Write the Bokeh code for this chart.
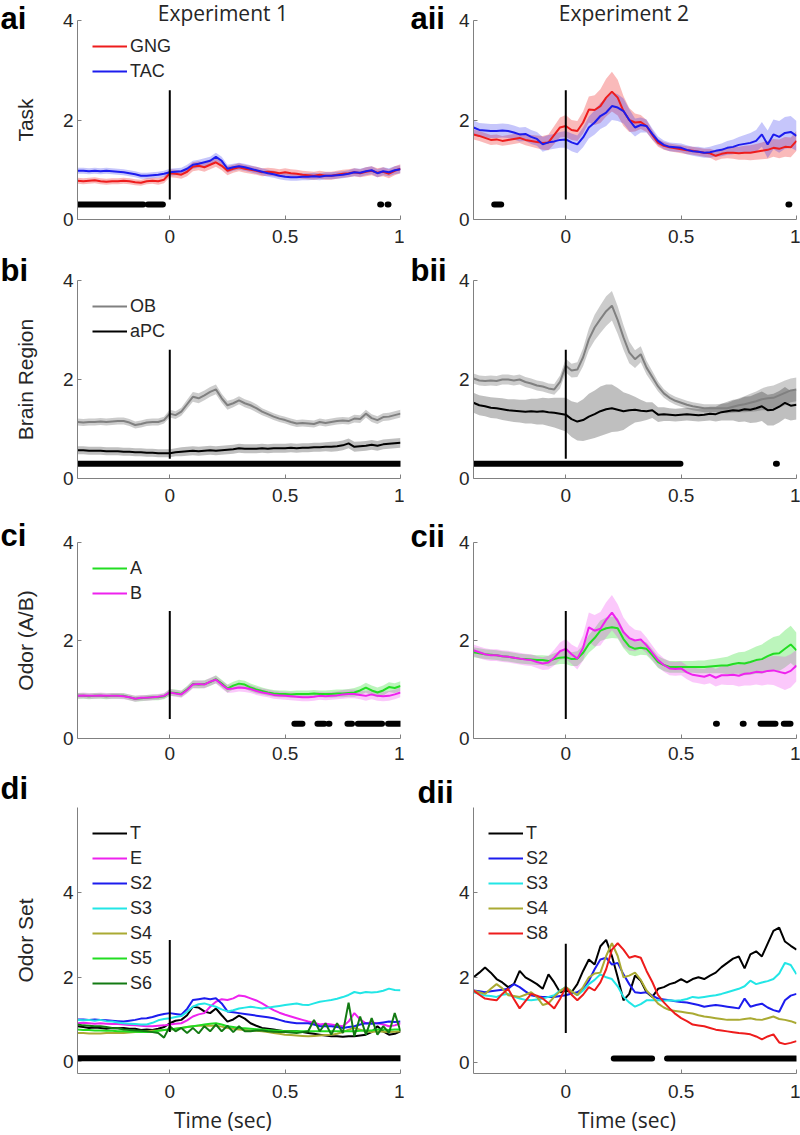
import numpy as np
from bokeh.plotting import figure
from bokeh.layouts import column, row
from bokeh.models import Range1d, FixedTicker, NumeralTickFormatter, Legend, LegendItem
from bokeh.core.properties import value
from bokeh.embed import file_html
from bokeh.resources import INLINE

# ---------------- data ----------------
TIME = np.round(np.linspace(-0.4, 1.0, 57), 3)   # time bins (sec)
X_TICKS = [0, 0.5, 1]
Y_TICKS = [0, 2, 4]
STIM_X = [0.0]

# Experiment 1 - Task
ai_gng = [0.78, 0.77, 0.78, 0.79, 0.77, 0.76, 0.77, 0.77,
          0.78, 0.77, 0.75, 0.74, 0.77, 0.78, 0.77, 0.80,
          0.93, 0.92, 0.90, 0.96, 1.06, 1.08, 1.05, 1.10,
          1.15, 1.08, 0.98, 1.02, 1.05, 1.02, 1.00, 0.98,
          0.95, 0.96, 0.95, 0.93, 0.95, 0.93, 0.92, 0.90,
          0.89, 0.88, 0.90, 0.88, 0.88, 0.90, 0.92, 0.93,
          0.95, 0.93, 0.96, 0.98, 0.94, 0.96, 0.92, 0.98,
          1.02]
ai_gng_sem = [0.06, 0.06, 0.06, 0.06, 0.06, 0.06, 0.06, 0.06,
              0.06, 0.06, 0.06, 0.06, 0.06, 0.06, 0.07, 0.07,
              0.08, 0.08, 0.08, 0.09, 0.09, 0.09, 0.09, 0.09,
              0.09, 0.09, 0.09, 0.08, 0.08, 0.08, 0.08, 0.08,
              0.08, 0.08, 0.08, 0.08, 0.08, 0.08, 0.08, 0.08,
              0.08, 0.08, 0.08, 0.08, 0.08, 0.08, 0.08, 0.08,
              0.08, 0.08, 0.09, 0.09, 0.09, 0.09, 0.09, 0.09,
              0.09]
ai_tac = [0.98, 0.98, 0.97, 0.98, 0.97, 0.98, 0.97, 0.96,
          0.95, 0.93, 0.91, 0.88, 0.88, 0.89, 0.90, 0.92,
          0.95, 0.96, 0.97, 1.02, 1.10, 1.12, 1.15, 1.18,
          1.26, 1.18, 1.02, 1.05, 1.07, 1.05, 1.02, 0.99,
          0.96, 0.93, 0.91, 0.88, 0.86, 0.85, 0.85, 0.86,
          0.86, 0.87, 0.86, 0.88, 0.88, 0.89, 0.90, 0.92,
          0.95, 0.94, 0.97, 0.99, 0.93, 0.97, 0.95, 0.99,
          1.01]
ai_tac_sem = [0.06, 0.06, 0.06, 0.06, 0.06, 0.06, 0.06, 0.06,
              0.06, 0.06, 0.06, 0.06, 0.06, 0.06, 0.06, 0.06,
              0.07, 0.07, 0.07, 0.08, 0.08, 0.08, 0.08, 0.08,
              0.08, 0.08, 0.08, 0.07, 0.07, 0.07, 0.07, 0.07,
              0.07, 0.07, 0.07, 0.07, 0.07, 0.07, 0.07, 0.07,
              0.07, 0.07, 0.07, 0.07, 0.07, 0.07, 0.07, 0.07,
              0.08, 0.08, 0.08, 0.08, 0.08, 0.08, 0.08, 0.08,
              0.08]
ai_sig = [(-0.4, -0.115), (-0.095, -0.03), (0.912, 0.916), (0.944, 0.948)]

# Experiment 2 - Task
aii_gng = [1.71, 1.68, 1.64, 1.60, 1.61, 1.58, 1.60, 1.62,
           1.64, 1.60, 1.58, 1.56, 1.54, 1.55, 1.70, 1.85,
           1.88, 1.80, 1.78, 1.95, 2.21, 2.20, 2.28, 2.45,
           2.57, 2.45, 2.18, 2.00, 1.95, 1.96, 1.88, 1.70,
           1.54, 1.48, 1.45, 1.43, 1.41, 1.39, 1.38, 1.36,
           1.34, 1.33, 1.28, 1.32, 1.34, 1.34, 1.33, 1.34,
           1.34, 1.36, 1.38, 1.40, 1.44, 1.42, 1.46, 1.45,
           1.58]
aii_gng_sem = [0.10, 0.10, 0.10, 0.10, 0.10, 0.10, 0.10, 0.10,
               0.10, 0.11, 0.12, 0.13, 0.14, 0.16, 0.18, 0.20,
               0.22, 0.20, 0.20, 0.22, 0.26, 0.30, 0.34, 0.38,
               0.40, 0.36, 0.30, 0.24, 0.18, 0.14, 0.12, 0.10,
               0.08, 0.08, 0.08, 0.08, 0.08, 0.08, 0.08, 0.08,
               0.08, 0.09, 0.10, 0.10, 0.11, 0.12, 0.13, 0.14,
               0.15, 0.16, 0.17, 0.18, 0.18, 0.19, 0.20, 0.20,
               0.20]
aii_tac = [1.85, 1.80, 1.79, 1.78, 1.78, 1.79, 1.78, 1.75,
           1.71, 1.72, 1.66, 1.62, 1.51, 1.55, 1.57, 1.60,
           1.61, 1.55, 1.51, 1.65, 1.85, 1.95, 2.08, 2.15,
           2.28, 2.25, 2.18, 2.00, 1.85, 1.90, 1.88, 1.72,
           1.58, 1.50, 1.46, 1.45, 1.44, 1.40, 1.37, 1.36,
           1.34, 1.35, 1.38, 1.40, 1.44, 1.46, 1.50, 1.52,
           1.54, 1.58, 1.71, 1.51, 1.71, 1.66, 1.74, 1.76,
           1.68]
aii_tac_sem = [0.14, 0.14, 0.14, 0.14, 0.14, 0.14, 0.14, 0.14,
               0.14, 0.14, 0.14, 0.14, 0.15, 0.15, 0.15, 0.16,
               0.17, 0.18, 0.18, 0.20, 0.22, 0.24, 0.26, 0.27,
               0.28, 0.27, 0.25, 0.22, 0.18, 0.15, 0.13, 0.11,
               0.09, 0.09, 0.09, 0.09, 0.09, 0.09, 0.09, 0.10,
               0.10, 0.11, 0.12, 0.13, 0.14, 0.15, 0.16, 0.18,
               0.20, 0.22, 0.25, 0.28, 0.30, 0.32, 0.32, 0.32,
               0.30]
aii_sig = [(-0.31, -0.28), (0.965, 0.969)]

# Experiment 1 - Brain region
bi_ob = [1.14, 1.13, 1.14, 1.14, 1.15, 1.14, 1.15, 1.16,
         1.16, 1.13, 1.08, 1.10, 1.13, 1.14, 1.14, 1.18,
         1.31, 1.28, 1.35, 1.50, 1.65, 1.62, 1.68, 1.75,
         1.80, 1.62, 1.48, 1.52, 1.58, 1.52, 1.48, 1.42,
         1.35, 1.30, 1.25, 1.21, 1.18, 1.14, 1.11, 1.12,
         1.11, 1.10, 1.14, 1.12, 1.14, 1.16, 1.17, 1.16,
         1.21, 1.20, 1.31, 1.22, 1.18, 1.24, 1.25, 1.28,
         1.31]
bi_ob_sem = [0.07, 0.07, 0.07, 0.07, 0.07, 0.07, 0.07, 0.07,
             0.07, 0.07, 0.07, 0.07, 0.07, 0.07, 0.07, 0.07,
             0.08, 0.08, 0.08, 0.09, 0.10, 0.10, 0.10, 0.10,
             0.10, 0.09, 0.09, 0.08, 0.08, 0.08, 0.08, 0.08,
             0.07, 0.07, 0.07, 0.07, 0.07, 0.07, 0.07, 0.07,
             0.07, 0.07, 0.07, 0.07, 0.07, 0.07, 0.07, 0.07,
             0.08, 0.08, 0.08, 0.08, 0.08, 0.08, 0.08, 0.08,
             0.08]
bi_apc = [0.57, 0.57, 0.56, 0.56, 0.56, 0.55, 0.55, 0.55,
          0.54, 0.54, 0.53, 0.53, 0.52, 0.52, 0.51, 0.51,
          0.51, 0.53, 0.54, 0.55, 0.56, 0.55, 0.56, 0.57,
          0.56, 0.57, 0.58, 0.59, 0.61, 0.60, 0.60, 0.60,
          0.61, 0.60, 0.61, 0.61, 0.61, 0.62, 0.61, 0.62,
          0.62, 0.63, 0.63, 0.64, 0.64, 0.65, 0.67, 0.71,
          0.64, 0.65, 0.66, 0.68, 0.66, 0.69, 0.70, 0.71,
          0.72]
bi_apc_sem = [0.08, 0.08, 0.08, 0.08, 0.08, 0.08, 0.08, 0.08,
              0.08, 0.08, 0.08, 0.08, 0.08, 0.08, 0.08, 0.08,
              0.08, 0.08, 0.09, 0.09, 0.09, 0.09, 0.09, 0.09,
              0.09, 0.09, 0.09, 0.09, 0.09, 0.09, 0.09, 0.09,
              0.09, 0.09, 0.09, 0.09, 0.09, 0.09, 0.09, 0.09,
              0.09, 0.09, 0.09, 0.09, 0.10, 0.10, 0.10, 0.10,
              0.10, 0.10, 0.10, 0.10, 0.10, 0.10, 0.10, 0.10,
              0.10]
bi_sig = [(-0.4, 1.0)]

# Experiment 2 - Brain region
bii_ob = [2.02, 1.98, 1.97, 1.98, 1.97, 2.00, 2.00, 1.98,
          2.00, 1.95, 1.92, 1.88, 1.86, 1.82, 1.80, 1.95,
          2.28, 2.18, 2.20, 2.45, 2.81, 3.05, 3.22, 3.38,
          3.49, 3.20, 2.85, 2.55, 2.41, 2.51, 2.24, 2.05,
          1.86, 1.72, 1.63, 1.57, 1.53, 1.49, 1.46, 1.44,
          1.42, 1.42, 1.42, 1.42, 1.42, 1.45, 1.48, 1.50,
          1.53, 1.56, 1.60, 1.62, 1.63, 1.68, 1.73, 1.78,
          1.80]
bii_ob_sem = [0.10, 0.10, 0.10, 0.10, 0.10, 0.10, 0.10, 0.10,
              0.10, 0.10, 0.10, 0.10, 0.10, 0.10, 0.11, 0.13,
              0.14, 0.14, 0.15, 0.18, 0.22, 0.26, 0.28, 0.30,
              0.30, 0.28, 0.25, 0.22, 0.18, 0.16, 0.14, 0.12,
              0.10, 0.09, 0.08, 0.08, 0.08, 0.08, 0.08, 0.08,
              0.08, 0.08, 0.08, 0.09, 0.10, 0.12, 0.14, 0.16,
              0.18, 0.20, 0.22, 0.24, 0.25, 0.25, 0.25, 0.24,
              0.24]
bii_apc = [1.53, 1.48, 1.46, 1.43, 1.42, 1.40, 1.38, 1.37,
           1.36, 1.35, 1.36, 1.35, 1.36, 1.34, 1.33, 1.31,
           1.29, 1.20, 1.15, 1.18, 1.25, 1.30, 1.36, 1.40,
           1.42, 1.39, 1.36, 1.38, 1.39, 1.37, 1.36, 1.38,
           1.29, 1.30, 1.29, 1.28, 1.29, 1.30, 1.29, 1.28,
           1.29, 1.31, 1.30, 1.34, 1.36, 1.38, 1.37, 1.40,
           1.39, 1.42, 1.46, 1.38, 1.39, 1.45, 1.53, 1.47,
           1.49]
bii_apc_sem = [0.20, 0.20, 0.20, 0.21, 0.21, 0.22, 0.22, 0.23,
               0.23, 0.24, 0.25, 0.26, 0.27, 0.28, 0.30, 0.32,
               0.34, 0.36, 0.38, 0.42, 0.46, 0.48, 0.50, 0.50,
               0.48, 0.44, 0.38, 0.32, 0.26, 0.22, 0.18, 0.16,
               0.15, 0.14, 0.13, 0.13, 0.13, 0.13, 0.13, 0.13,
               0.13, 0.14, 0.15, 0.17, 0.19, 0.21, 0.23, 0.25,
               0.27, 0.29, 0.30, 0.31, 0.32, 0.32, 0.32, 0.30,
               0.30]
bii_sig = [(-0.4, 0.497), (0.911, 0.915)]

# Experiment 1 - Odor A/B
ci_a = [0.87, 0.87, 0.86, 0.87, 0.87, 0.86, 0.87, 0.87,
        0.87, 0.84, 0.81, 0.82, 0.83, 0.84, 0.84, 0.86,
        0.94, 0.93, 0.91, 1.00, 1.11, 1.10, 1.11, 1.15,
        1.21, 1.12, 1.02, 1.08, 1.12, 1.10, 1.04, 1.00,
        0.97, 0.94, 0.92, 0.91, 0.91, 0.90, 0.91, 0.91,
        0.91, 0.92, 0.91, 0.91, 0.91, 0.92, 0.92, 0.93,
        0.94, 0.98, 1.04, 0.98, 0.94, 0.98, 1.05, 1.03,
        1.07]
ci_a_sem = [0.06, 0.06, 0.06, 0.06, 0.06, 0.06, 0.06, 0.06,
            0.06, 0.06, 0.06, 0.06, 0.06, 0.06, 0.06, 0.06,
            0.07, 0.07, 0.07, 0.07, 0.08, 0.08, 0.08, 0.08,
            0.08, 0.08, 0.08, 0.08, 0.08, 0.08, 0.08, 0.08,
            0.07, 0.07, 0.07, 0.07, 0.07, 0.07, 0.07, 0.07,
            0.07, 0.07, 0.07, 0.07, 0.08, 0.08, 0.08, 0.08,
            0.09, 0.09, 0.10, 0.10, 0.10, 0.10, 0.10, 0.10,
            0.10]
ci_b = [0.87, 0.88, 0.87, 0.87, 0.88, 0.87, 0.87, 0.87,
        0.86, 0.84, 0.81, 0.83, 0.83, 0.84, 0.85, 0.87,
        0.94, 0.92, 0.90, 0.99, 1.10, 1.11, 1.10, 1.16,
        1.20, 1.10, 1.01, 1.02, 1.04, 1.03, 1.01, 0.97,
        0.94, 0.92, 0.89, 0.88, 0.87, 0.86, 0.85, 0.84,
        0.84, 0.85, 0.87, 0.86, 0.87, 0.88, 0.90, 0.91,
        0.91, 0.89, 0.87, 0.90, 0.87, 0.86, 0.87, 0.90,
        0.94]
ci_b_sem = [0.06, 0.06, 0.06, 0.06, 0.06, 0.06, 0.06, 0.06,
            0.06, 0.06, 0.06, 0.06, 0.06, 0.06, 0.06, 0.06,
            0.07, 0.07, 0.07, 0.07, 0.08, 0.08, 0.08, 0.08,
            0.08, 0.08, 0.08, 0.08, 0.08, 0.08, 0.08, 0.08,
            0.08, 0.08, 0.08, 0.08, 0.08, 0.08, 0.08, 0.08,
            0.08, 0.08, 0.08, 0.08, 0.08, 0.08, 0.09, 0.09,
            0.09, 0.09, 0.10, 0.10, 0.10, 0.10, 0.10, 0.10,
            0.10]
ci_sig = [(0.54, 0.575), (0.64, 0.67), (0.688, 0.692), (0.77, 0.79),
          (0.815, 0.92), (0.946, 1.0)]

# Experiment 2 - Odor A/B
cii_a = [1.76, 1.74, 1.72, 1.71, 1.70, 1.68, 1.67, 1.65,
         1.63, 1.62, 1.61, 1.60, 1.60, 1.58, 1.62, 1.65,
         1.66, 1.62, 1.63, 1.75, 1.93, 2.05, 2.20, 2.25,
         2.27, 2.25, 2.03, 1.88, 1.83, 1.85, 1.83, 1.70,
         1.56, 1.50, 1.46, 1.46, 1.46, 1.46, 1.46, 1.46,
         1.46, 1.47, 1.48, 1.49, 1.49, 1.52, 1.54, 1.53,
         1.56, 1.60, 1.62, 1.68, 1.73, 1.74, 1.83, 1.92,
         1.80]
cii_a_sem = [0.10, 0.10, 0.10, 0.10, 0.10, 0.10, 0.10, 0.10,
             0.10, 0.10, 0.10, 0.10, 0.10, 0.11, 0.12, 0.13,
             0.14, 0.14, 0.15, 0.16, 0.18, 0.20, 0.21, 0.22,
             0.22, 0.21, 0.19, 0.17, 0.15, 0.14, 0.13, 0.12,
             0.12, 0.12, 0.12, 0.12, 0.12, 0.12, 0.12, 0.13,
             0.13, 0.14, 0.15, 0.16, 0.18, 0.20, 0.22, 0.24,
             0.26, 0.28, 0.30, 0.32, 0.34, 0.36, 0.38, 0.38,
             0.36]
cii_b = [1.80, 1.76, 1.72, 1.70, 1.70, 1.68, 1.67, 1.65,
         1.63, 1.61, 1.60, 1.56, 1.53, 1.55, 1.65, 1.78,
         1.83, 1.72, 1.63, 1.85, 2.27, 2.20, 2.24, 2.42,
         2.57, 2.40, 2.17, 2.05, 2.00, 2.02, 1.90, 1.75,
         1.60, 1.50, 1.43, 1.42, 1.43, 1.35, 1.30, 1.28,
         1.26, 1.30, 1.24, 1.29, 1.29, 1.30, 1.28, 1.32,
         1.33, 1.36, 1.35, 1.38, 1.39, 1.36, 1.33, 1.38,
         1.49]
cii_b_sem = [0.12, 0.12, 0.12, 0.12, 0.12, 0.12, 0.12, 0.12,
             0.12, 0.12, 0.12, 0.12, 0.13, 0.14, 0.16, 0.18,
             0.20, 0.20, 0.22, 0.26, 0.30, 0.32, 0.34, 0.36,
             0.36, 0.34, 0.30, 0.26, 0.22, 0.18, 0.16, 0.15,
             0.14, 0.14, 0.14, 0.14, 0.14, 0.14, 0.15, 0.15,
             0.16, 0.17, 0.18, 0.19, 0.20, 0.21, 0.22, 0.24,
             0.25, 0.26, 0.27, 0.28, 0.30, 0.32, 0.34, 0.34,
             0.32]
cii_sig = [(0.651, 0.655), (0.767, 0.771), (0.844, 0.909), (0.945, 0.974)]

# Experiment 1 - Odor set
di_t = [0.84, 0.82, 0.80, 0.81, 0.80, 0.78, 0.80, 0.79,
        0.80, 0.78, 0.78, 0.75, 0.76, 0.75, 0.78, 0.82,
        0.91, 0.97, 0.99, 1.10, 1.30, 1.28, 1.19, 1.15,
        1.26, 1.10, 0.95, 1.00, 1.09, 1.02, 0.91, 0.85,
        0.80, 0.78, 0.76, 0.74, 0.72, 0.72, 0.72, 0.70,
        0.68, 0.66, 0.64, 0.62, 0.60, 0.60, 0.59, 0.60,
        0.60, 0.62, 0.64, 0.70, 0.84, 0.72, 0.64, 0.66,
        0.72]
di_e = [0.91, 0.92, 0.91, 0.90, 0.91, 0.90, 0.89, 0.89,
        0.88, 0.87, 0.86, 0.85, 0.84, 0.84, 0.85, 0.86,
        0.88, 0.90, 0.91, 0.98, 1.07, 1.12, 1.15, 1.30,
        1.42, 1.48, 1.46, 1.50, 1.57, 1.55, 1.50, 1.45,
        1.38, 1.30, 1.22, 1.16, 1.11, 1.07, 1.03, 0.99,
        0.95, 0.92, 0.88, 0.90, 0.88, 0.86, 0.84, 0.95,
        1.15, 1.00, 0.91, 0.93, 0.91, 0.88, 0.84, 0.86,
        0.91]
di_s2 = [1.00, 1.00, 0.99, 1.00, 0.99, 0.98, 0.97, 0.96,
         0.95, 0.97, 0.99, 1.02, 1.03, 1.06, 1.10, 1.13,
         1.15, 1.13, 1.11, 1.25, 1.46, 1.48, 1.50, 1.48,
         1.50, 1.38, 1.19, 1.17, 1.15, 1.13, 1.11, 1.09,
         1.07, 1.05, 1.03, 0.99, 0.95, 0.93, 0.91, 0.91,
         0.91, 0.88, 0.84, 0.84, 0.84, 0.82, 0.80, 0.82,
         0.84, 0.88, 0.91, 0.90, 0.91, 0.93, 0.95, 0.94,
         0.95]
di_s3 = [0.99, 0.98, 0.99, 0.97, 0.99, 0.96, 0.95, 0.93,
         0.91, 0.90, 0.89, 0.88, 0.88, 0.92, 0.98, 1.01,
         1.03, 1.06, 1.08, 1.18, 1.30, 1.36, 1.38, 1.34,
         1.30, 1.24, 1.19, 1.22, 1.26, 1.28, 1.30, 1.28,
         1.26, 1.28, 1.30, 1.32, 1.34, 1.36, 1.38, 1.35,
         1.34, 1.38, 1.42, 1.44, 1.46, 1.49, 1.53, 1.58,
         1.65, 1.62, 1.65, 1.64, 1.65, 1.68, 1.73, 1.70,
         1.69]
di_s4 = [0.68, 0.68, 0.67, 0.67, 0.67, 0.68, 0.68, 0.68,
         0.68, 0.69, 0.70, 0.71, 0.72, 0.73, 0.74, 0.75,
         0.76, 0.78, 0.80, 0.82, 0.84, 0.85, 0.85, 0.85,
         0.85, 0.83, 0.80, 0.78, 0.76, 0.75, 0.74, 0.73,
         0.72, 0.70, 0.68, 0.66, 0.64, 0.63, 0.62, 0.61,
         0.60, 0.61, 0.62, 0.63, 0.64, 0.66, 0.70, 0.76,
         0.80, 0.76, 0.72, 0.70, 0.72, 0.71, 0.70, 0.71,
         0.72]
di_s5 = [0.76, 0.75, 0.75, 0.74, 0.74, 0.73, 0.73, 0.72,
         0.72, 0.71, 0.71, 0.70, 0.70, 0.71, 0.73, 0.75,
         0.76, 0.78, 0.80, 0.82, 0.84, 0.86, 0.88, 0.90,
         0.91, 0.88, 0.84, 0.82, 0.80, 0.79, 0.78, 0.77,
         0.76, 0.75, 0.74, 0.73, 0.72, 0.72, 0.72, 0.72,
         0.72, 0.72, 0.72, 0.72, 0.72, 0.72, 0.72, 0.72,
         0.72, 0.73, 0.74, 0.74, 0.76, 0.76, 0.75, 0.76,
         0.76]
di_s6 = [0.88, 0.86, 0.85, 0.84, 0.84, 0.82, 0.80, 0.79,
         0.76, 0.75, 0.74, 0.73, 0.72, 0.70, 0.68, 0.57,
         0.84, 0.72, 0.80, 0.68, 0.80, 0.67, 0.84, 0.72,
         0.88, 0.72, 0.85, 0.70, 0.84, 0.72, 0.72, 0.74,
         0.74, 0.72, 0.71, 0.70, 0.70, 0.69, 0.68, 0.70,
         0.72, 0.99, 0.72, 0.91, 0.64, 0.91, 0.68, 1.40,
         0.60, 1.07, 0.64, 1.03, 0.64, 0.84, 0.68, 1.15,
         0.72]
di_sig = [(-0.4, 1.0)]

# Experiment 2 - Odor set
dii_t = [2.01, 2.12, 2.24, 2.12, 1.97, 1.89, 1.78, 1.85,
         2.16, 2.01, 1.93, 1.85, 1.74, 2.08, 1.89, 1.66,
         1.70, 1.66, 1.85, 2.16, 2.43, 2.31, 2.74, 2.89,
         2.51, 2.01, 1.47, 1.62, 2.05, 1.93, 1.66, 1.55,
         1.74, 1.78, 1.85, 1.89, 1.97, 1.89, 1.97, 2.01,
         1.97, 2.05, 2.12, 2.25, 2.35, 2.45, 2.50, 2.22,
         2.55, 2.62, 2.50, 2.80, 3.10, 3.18, 2.85, 2.75,
         2.66]
dii_s2 = [1.70, 1.68, 1.66, 1.68, 1.70, 1.72, 1.74, 1.85,
          1.78, 1.68, 1.59, 1.56, 1.55, 1.55, 1.55, 1.57,
          1.59, 1.63, 1.66, 1.75, 1.93, 2.20, 2.43, 2.47,
          2.31, 2.35, 2.08, 1.85, 1.66, 1.64, 1.66, 1.58,
          1.51, 1.49, 1.47, 1.45, 1.43, 1.42, 1.39, 1.36,
          1.32, 1.34, 1.36, 1.34, 1.32, 1.30, 1.28, 1.51,
          1.32, 1.36, 1.39, 1.30, 1.24, 1.20, 1.47, 1.58,
          1.62]
dii_s3 = [1.66, 1.62, 1.58, 1.57, 1.55, 1.60, 1.62, 1.56,
          1.51, 1.48, 1.47, 1.49, 1.51, 1.55, 1.59, 1.70,
          1.78, 1.68, 1.59, 1.70, 1.85, 1.95, 2.08, 2.01,
          1.97, 1.80, 1.55, 1.42, 1.32, 1.38, 1.47, 1.47,
          1.47, 1.46, 1.47, 1.46, 1.47, 1.50, 1.55, 1.53,
          1.55, 1.57, 1.59, 1.62, 1.66, 1.70, 1.74, 1.80,
          1.93, 1.85, 1.89, 1.92, 1.97, 2.10, 2.35, 2.30,
          2.08]
dii_s4 = [1.70, 1.66, 1.62, 1.74, 1.85, 1.75, 1.59, 1.57,
          1.55, 1.60, 1.66, 1.55, 1.36, 1.40, 1.55, 1.68,
          1.78, 1.68, 1.59, 1.78, 2.01, 2.10, 2.12, 2.51,
          2.81, 2.51, 2.01, 2.05, 2.12, 1.95, 1.70, 1.55,
          1.39, 1.30, 1.24, 1.22, 1.20, 1.18, 1.16, 1.12,
          1.09, 1.07, 1.05, 1.03, 1.01, 1.01, 1.01, 1.03,
          1.05, 1.02, 1.01, 1.05, 1.09, 1.03, 1.01, 0.98,
          0.93]
dii_s8 = [1.70, 1.60, 1.51, 1.49, 1.47, 1.62, 1.74, 1.50,
          1.28, 1.45, 1.62, 1.58, 1.51, 1.40, 1.28, 1.50,
          1.78, 1.60, 1.47, 1.60, 1.78, 1.70, 1.89, 2.20,
          2.66, 2.81, 2.66, 2.47, 2.51, 2.47, 2.16, 1.90,
          1.59, 1.42, 1.28, 1.15, 1.05, 0.98, 0.90, 0.88,
          0.86, 0.82, 0.78, 0.76, 0.74, 0.72, 0.70, 0.69,
          0.67, 0.62, 0.55, 0.62, 0.67, 0.48, 0.44, 0.47,
          0.51]
dii_sig = [(0.208, 0.374), (0.439, 1.0)]

# ---------------- style ----------------
FONT = "Liberation Sans"
FONT2 = "Open Sans"
AXC = "#808080"
TXT = "#262626"
RED, BLUE = "#ee1c1c", "#1c1cee"
GREY = "#808080"
GREEN, MAGENTA = "#22dd22", "#ee22ee"
CYAN, OLIVE, DKGREEN = "#22e6e6", "#aaaa33", "#137a13"

LW, RW = 404, 396      # left / right figure widths
LB, RB = 77, 69        # left borders


def panel(width, bl, height, bt, bb, yr, ylabel=None, xstand=10):
    p = figure(width=width, height=height, x_range=Range1d(-0.4, 1.0),
               y_range=Range1d(*yr), output_backend="svg", toolbar_location=None,
               min_border_left=bl, min_border_right=4, min_border_top=bt,
               min_border_bottom=bb)
    p.outline_line_color = None
    p.xgrid.visible = False
    p.ygrid.visible = False
    xa, ya = p.xaxis[0], p.yaxis[0]
    xa.ticker = FixedTicker(ticks=X_TICKS)
    xa.formatter = NumeralTickFormatter(format="0.[0]")
    ya.ticker = FixedTicker(ticks=Y_TICKS)
    for ax in (xa, ya):
        ax.axis_line_color = AXC
        ax.major_tick_line_color = AXC
        ax.major_tick_in = 4
        ax.major_tick_out = 0
        ax.minor_tick_line_color = None
        ax.major_label_text_font = FONT
        ax.major_label_text_font_size = "19px"
        ax.major_label_text_color = TXT
    xa.major_label_standoff = xstand
    ya.major_label_standoff = 4
    if ylabel:
        ya.axis_label = ylabel
        ya.axis_label_text_font = FONT
        ya.axis_label_text_font_size = "21px"
        ya.axis_label_text_font_style = "normal"
        ya.axis_label_text_color = TXT
        ya.axis_label_standoff = 23
    return p


def band(p, mean, sem, color, alpha):
    m = np.array(mean)
    s = np.array(sem)
    p.varea(x=TIME, y1=m - s, y2=m + s, fill_color=color, fill_alpha=alpha)


def line(p, mean, color, w=2):
    return p.line(TIME, mean, line_color=color, line_width=w)


def sig(p, spans, level):
    p.segment(x0=[a for a, b in spans], y0=[level] * len(spans),
              x1=[b for a, b in spans], y1=[level] * len(spans),
              line_color="black", line_width=6, line_cap="round")


def stim(p, y0, y1):
    p.segment(x0=STIM_X, y0=[y0], x1=STIM_X, y1=[y1], line_color="black", line_width=2)


def legend(p, items):
    lg = Legend(items=[LegendItem(label=n, renderers=[r]) for n, r in items],
                location="top_left", border_line_color=None, background_fill_alpha=0,
                label_text_font=FONT, label_text_font_size="18px", label_text_color=TXT,
                glyph_width=35, glyph_height=22, label_height=22, spacing=3,
                padding=7, margin=15, label_standoff=3)
    p.add_layout(lg)


def tag(p, x, y, text):
    p.text(x=[x], y=[y], text=[text], text_font=value(FONT), text_font_size="31px",
           text_font_style="bold", text_color="black", text_align="left",
           text_baseline="alphabetic", level="overlay")


def title(p, x, y, text):
    p.text(x=[x], y=[y], text=[text], text_font=value(FONT2), text_font_size="21px",
           text_color=TXT, text_align="center", text_baseline="alphabetic",
           level="overlay")


# row a
pa1 = panel(LW, LB, 250, 20, 31, (0, 4), ylabel="Task")
band(pa1, ai_gng, ai_gng_sem, RED, 0.3)
band(pa1, ai_tac, ai_tac_sem, BLUE, 0.25)
r1 = line(pa1, ai_gng, RED)
r2 = line(pa1, ai_tac, BLUE)
stim(pa1, 0.4, 2.6)
sig(pa1, ai_sig, 0.3)
legend(pa1, [("GNG", r1), ("TAC", r2)])
tag(pa1, -0.734, 4.04, "ai")
title(pa1, 0.23, 4.16, "Experiment 1")

pa2 = panel(RW, RB, 250, 20, 31, (0, 4))
band(pa2, aii_gng, aii_gng_sem, RED, 0.3)
band(pa2, aii_tac, aii_tac_sem, BLUE, 0.25)
line(pa2, aii_gng, RED)
line(pa2, aii_tac, BLUE)
stim(pa2, 0.4, 2.6)
sig(pa2, aii_sig, 0.3)
tag(pa2, -0.673, 4.04, "aii")
title(pa2, 0.252, 4.16, "Experiment 2")

# row b
pb1 = panel(LW, LB, 262, 30, 34, (0, 4), ylabel="Brain Region")
band(pb1, bi_ob, bi_ob_sem, GREY, 0.4)
band(pb1, bi_apc, bi_apc_sem, "black", 0.25)
r1 = line(pb1, bi_ob, GREY)
r2 = line(pb1, bi_apc, "black")
stim(pb1, 0.4, 2.6)
sig(pb1, bi_sig, 0.3)
legend(pb1, [("OB", r1), ("aPC", r2)])
tag(pb1, -0.734, 4.20, "bi")

pb2 = panel(RW, RB, 262, 30, 34, (0, 4))
band(pb2, bii_ob, bii_ob_sem, GREY, 0.4)
band(pb2, bii_apc, bii_apc_sem, "black", 0.25)
line(pb2, bii_ob, GREY)
line(pb2, bii_apc, "black")
stim(pb2, 0.4, 2.6)
sig(pb2, bii_sig, 0.3)
tag(pb2, -0.673, 4.21, "bii")

# row c
pc1 = panel(LW, LB, 256, 30, 30, (0, 4), ylabel="Odor (A/B)", xstand=8)
band(pc1, ci_a, ci_a_sem, GREEN, 0.3)
band(pc1, ci_b, ci_b_sem, MAGENTA, 0.25)
r1 = line(pc1, ci_a, GREEN)
r2 = line(pc1, ci_b, MAGENTA)
stim(pc1, 0.4, 2.6)
sig(pc1, ci_sig, 0.3)
legend(pc1, [("A", r1), ("B", r2)])
tag(pc1, -0.734, 4.145, "ci")

pc2 = panel(RW, RB, 256, 30, 30, (0, 4), xstand=8)
band(pc2, cii_a, cii_a_sem, GREEN, 0.3)
band(pc2, cii_b, cii_b_sem, MAGENTA, 0.25)
line(pc2, cii_a, GREEN)
line(pc2, cii_b, MAGENTA)
stim(pc2, 0.4, 2.6)
sig(pc2, cii_sig, 0.3)
tag(pc2, -0.673, 4.125, "cii")

# row d
pd1 = panel(LW, LB, 367, 39, 57, (-0.28, 6.02), ylabel="Odor Set", xstand=11)
items = []
for name, data, col in [("T", di_t, "black"), ("E", di_e, MAGENTA), ("S2", di_s2, BLUE),
                        ("S3", di_s3, CYAN), ("S4", di_s4, OLIVE), ("S5", di_s5, GREEN),
                        ("S6", di_s6, DKGREEN)]:
    items.append((name, line(pd1, data, col)))
stim(pd1, 0.7, 2.88)
sig(pd1, di_sig, 0.08)
legend(pd1, items)
tag(pd1, -0.734, 6.46, "di")
title(pd1, 0.23, -1.37, "Time (sec)")

pd2 = panel(RW, RB, 367, 34, 62, (-0.25, 6.0), xstand=11)
items = []
for name, data, col in [("T", dii_t, "black"), ("S2", dii_s2, BLUE), ("S3", dii_s3, CYAN),
                        ("S4", dii_s4, OLIVE), ("S8", dii_s8, RED)]:
    items.append((name, line(pd2, data, col)))
stim(pd2, 0.7, 2.8)
sig(pd2, dii_sig, 0.1)
legend(pd2, items)
tag(pd2, -0.643, 6.35, "dii")
title(pd2, 0.265, -1.34, "Time (sec)")

layout = column(row(pa1, pa2), row(pb1, pb2), row(pc1, pc2), row(pd1, pd2))
open("out.html", "w").write(file_html(layout, INLINE))
